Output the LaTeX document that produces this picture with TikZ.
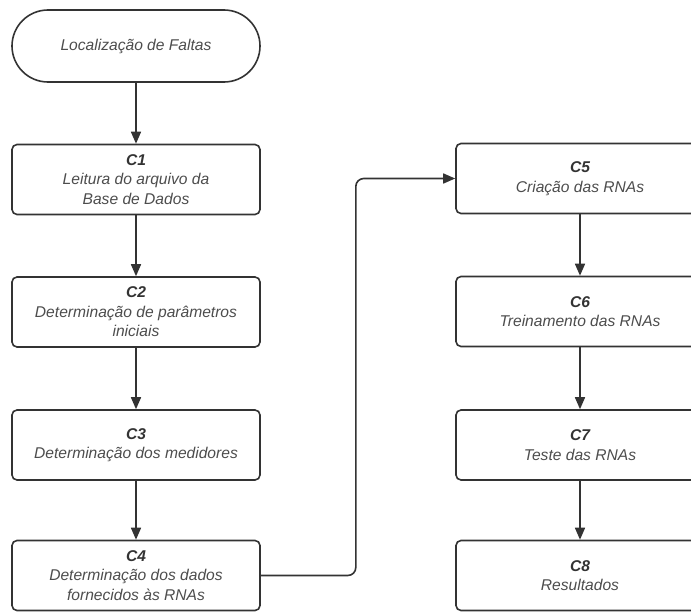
\documentclass[tikz,border=0pt]{standalone}
\usepackage{fontspec}
\setmainfont{Liberation Sans}
\usetikzlibrary{arrows.meta,positioning}
\definecolor{edgecol}{HTML}{333333}
\definecolor{txtcol}{HTML}{4D4D4D}
\tikzset{
  stepbox/.style={draw=edgecol, line width=1.6pt, rounded corners=5pt, fill=white,
    minimum width=248pt, minimum height=70pt, align=center, text=txtcol,
    font=\fontsize{15.6}{19.5}\selectfont\itshape, inner sep=2pt},
  termbox/.style={stepbox, rounded corners=36pt, minimum height=72pt},
  flow/.style={draw=edgecol, line width=1.6pt, -{Triangle[length=12pt,width=10pt]}},
}
\newcommand{\cid}[1]{{\bfseries\itshape\color{edgecol}#1}}
\begin{document}
\begin{tikzpicture}[x=1pt,y=-1pt]
\useasboundingbox (0,0) rectangle (691,613);
\clip (0,0) rectangle (691,613);
\fill[white] (0,0) rectangle (691,613);
% left column
\node[termbox] (start) at (136,46) {Localização de Faltas};
\node[stepbox] (c1) at (136,179.5) {\cid{C1}\\Leitura do arquivo da\\Base de Dados};
\node[stepbox] (c2) at (136,312) {\cid{C2}\\Determinação de parâmetros\\iniciais};
\node[stepbox] (c3) at (136,445) {\cid{C3}\\Determinação dos medidores};
\node[stepbox] (c4) at (136,575.5) {\cid{C4}\\Determinação dos dados\\fornecidos às RNAs};
% right column
\node[stepbox] (c5) at (580,178.5) {\cid{C5}\\Criação das RNAs};
\node[stepbox] (c6) at (580,311.5) {\cid{C6}\\Treinamento das RNAs};
\node[stepbox] (c7) at (580,445) {\cid{C7}\\Teste das RNAs};
\node[stepbox] (c8) at (580,575.5) {\cid{C8}\\Resultados};
% connectors
\draw[flow] (start) -- (c1);
\draw[flow] (c1) -- (c2);
\draw[flow] (c2) -- (c3);
\draw[flow] (c3) -- (c4);
\draw[flow, rounded corners=8pt] (c4.east) -- ++(95,0) |- (c5.west);
\draw[flow] (c5) -- (c6);
\draw[flow] (c6) -- (c7);
\draw[flow] (c7) -- (c8);
\end{tikzpicture}
\end{document}
